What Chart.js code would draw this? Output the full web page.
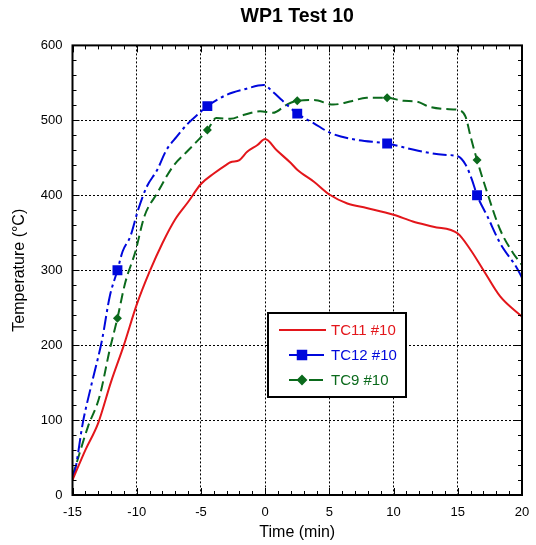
<!DOCTYPE html>
<html>
<head>
<meta charset="utf-8">
<title>WP1 Test 10</title>
<script src="https://cdn.jsdelivr.net/npm/chart.js@4.4.0/dist/chart.umd.js"></script>
<style>
  html, body { margin: 0; padding: 0; background: #fff; }
  #wrap { width: 536px; height: 545px; }
</style>
</head>
<body>
<div id="wrap"><canvas id="chart" width="536" height="545"></canvas></div>
<script>
// valori
const tc11Time = [-15, -14, -13, -12, -11, -10, -9, -8, -7, -6, -5, -4, -3, -2.7, -2, -1.4, -0.6, 0, 0.9, 2, 2.5, 3.8, 5, 6.4, 7.9, 10, 11.5, 13.1, 15, 16, 17, 18.3, 20];
const tc11Temp = [20, 60, 96, 151, 200, 254, 298, 336, 368, 391, 415, 429, 441, 444, 447, 458, 467, 475, 460, 443, 434, 418, 401, 389, 383, 374, 365, 358, 349, 327, 300, 265, 238];

const tc12Time = [-15, -14.8, -14.2, -13.5, -12.7, -12.1, -11.5, -11.1, -10.5, -9.9, -9.2, -8.4, -7.7, -6.9, -6, -5.3, -4.5, -3, -1.7, -0.1, 0.6, 1.3, 2.5, 3.8, 5.1, 7.1, 9.5, 11.5, 13.9, 15, 15.6, 16.1, 16.5, 17.3, 18.3, 19.6, 20];
const tc12Temp = [25, 33, 96, 149, 207, 265, 300, 325, 345, 380, 412, 434, 460, 478, 496, 507, 519, 534, 541, 547, 538, 527, 509, 496, 483, 474, 469, 461, 454, 452, 441, 421, 400, 372, 336, 303, 290];

const tc9Time = [-15, -14.8, -13.8, -12.9, -12.1, -11.5, -10.9, -10.1, -9.4, -8.4, -7.2, -6.1, -5.2, -4.5, -3.8, -2.7, -1.7, -0.4, 0.6, 1.7, 2.5, 3.8, 5.3, 6.6, 7.9, 9.5, 10.8, 11.8, 12.8, 14.1, 15, 15.6, 16, 16.5, 17.3, 18.3, 19.3, 20];
const tc9Temp = [25, 36, 91, 131, 194, 236, 283, 325, 372, 403, 438, 458, 474, 487, 503, 502, 507, 512, 510, 521, 526, 527, 521, 525, 530, 530, 526, 525, 518, 515, 514, 505, 478, 447, 403, 354, 323, 307];

// istanti con i marcatori
const markerTimes = [-11.5, -4.5, 2.5, 9.5, 16.5];

const xTicks = [-15, -10, -5, 0, 5, 10, 15, 20];
const yTicks = [0, 100, 200, 300, 400, 500, 600];

const RED = '#e3161b';
const BLUE = '#0008dc';
const GREEN = '#0b6a1c';

function toPoints(times, temps) {
    return times.map((t, i) => ({ x: t, y: temps[i] }));
}

function markerRadius(r) {
    return ctx => (ctx.raw && markerTimes.includes(ctx.raw.x)) ? r : 0;
}

// cornice e tacche interne su tutti e quattro i lati
const framePlugin = {
    id: 'frame',
    afterDatasetsDraw(chart) {
        const { ctx, chartArea: a, scales: { x, y } } = chart;
        ctx.save();
        ctx.strokeStyle = '#000';
        ctx.lineWidth = 1;
        ctx.beginPath();
        for (let v = -15; v <= 20; v += 1) {
            const px = Math.round(x.getPixelForValue(v)) + 0.5;
            const len = (v % 5 === 0) ? 7 : 4;
            ctx.moveTo(px, a.bottom); ctx.lineTo(px, a.bottom - len);
            ctx.moveTo(px, a.top); ctx.lineTo(px, a.top + len);
        }
        for (let v = 0; v <= 600; v += 20) {
            const py = Math.round(y.getPixelForValue(v)) + 0.5;
            const len = (v % 100 === 0) ? 7 : 4;
            ctx.moveTo(a.left, py); ctx.lineTo(a.left + len, py);
            ctx.moveTo(a.right, py); ctx.lineTo(a.right - len, py);
        }
        ctx.stroke();
        ctx.lineWidth = 2;
        ctx.strokeRect(a.left, a.top, a.right - a.left, a.bottom - a.top);
        ctx.restore();
    }
};

// legenda a riquadro come nell'originale
const legendBoxPlugin = {
    id: 'legendBox',
    afterDraw(chart) {
        const { ctx } = chart;
        const bx = 268, by = 313, bw = 138, bh = 84;
        ctx.save();
        ctx.fillStyle = '#fff';
        ctx.fillRect(bx, by, bw, bh);
        ctx.strokeStyle = '#000';
        ctx.lineWidth = 2;
        ctx.strokeRect(bx, by, bw, bh);

        const rows = [
            { label: 'TC11 #10', color: RED, marker: null },
            { label: 'TC12 #10', color: BLUE, marker: 'rect' },
            { label: 'TC9 #10', color: GREEN, marker: 'rectRot' }
        ];
        ctx.font = '15px "Liberation Sans", Arial, sans-serif';
        ctx.textBaseline = 'middle';
        rows.forEach((r, i) => {
            const ly = 330 + i * 25;
            ctx.strokeStyle = r.color;
            ctx.lineWidth = 2;
            ctx.beginPath();
            if (r.marker === 'rect') {
                ctx.moveTo(289, ly); ctx.lineTo(298, ly);
                ctx.moveTo(306, ly); ctx.lineTo(324, ly);
            } else if (r.marker === 'rectRot') {
                ctx.moveTo(289, ly); ctx.lineTo(299, ly);
                ctx.moveTo(309, ly); ctx.lineTo(323, ly);
            } else {
                ctx.moveTo(279, ly); ctx.lineTo(326, ly);
            }
            ctx.stroke();
            if (r.marker) {
                ctx.fillStyle = r.color;
                Chart.helpers.drawPoint(ctx, {
                    pointStyle: r.marker,
                    radius: r.marker === 'rect' ? 6 : 4,
                    borderWidth: 1,
                    rotation: 0
                }, 302, ly);
                ctx.fill();
            }
            ctx.fillStyle = r.color;
            ctx.fillText(r.label, 331, ly + 1);
        });
        ctx.restore();
    }
};

const FONT = '"Liberation Sans", Arial, sans-serif';

new Chart(document.getElementById('chart').getContext('2d'), {
    type: 'line',
    data: {
        datasets: [
            {
                label: 'TC11 #10',
                data: toPoints(tc11Time, tc11Temp),
                borderColor: RED,
                backgroundColor: RED,
                borderWidth: 2,
                pointRadius: 0,
                cubicInterpolationMode: 'monotone'
            },
            {
                label: 'TC12 #10',
                data: toPoints(tc12Time, tc12Temp),
                borderColor: BLUE,
                backgroundColor: BLUE,
                borderWidth: 2,
                borderDash: [14, 4, 3, 4],
                pointStyle: 'rect',
                pointRadius: markerRadius(7),
                pointBorderWidth: 0,
                cubicInterpolationMode: 'monotone'
            },
            {
                label: 'TC9 #10',
                data: toPoints(tc9Time, tc9Temp),
                borderColor: GREEN,
                backgroundColor: GREEN,
                borderWidth: 2,
                borderDash: [10, 5],
                pointStyle: 'rectRot',
                pointRadius: markerRadius(4.5),
                pointBorderWidth: 0,
                cubicInterpolationMode: 'monotone'
            }
        ]
    },
    options: {
        responsive: false,
        animation: false,
        layout: { padding: { left: 0, right: 14, top: 0, bottom: 0 } },
        plugins: {
            legend: { display: false },
            tooltip: { enabled: false },
            title: {
                display: true,
                text: 'WP1 Test 10',
                fullSize: false,
                color: '#000',
                font: { family: FONT, size: 19.5, weight: 'bold' },
                padding: { top: 5, bottom: 17 }
            }
        },
        scales: {
            x: {
                type: 'linear',
                min: -15,
                max: 20,
                afterFit: s => { s.height = 50; s.paddingLeft = 0; s.paddingRight = 0; },
                afterBuildTicks: s => { s.ticks = xTicks.map(v => ({ value: v })); },
                ticks: { color: '#000', padding: 10, font: { family: FONT, size: 13 } },
                grid: {
                    drawTicks: false,
                    color: c => (c.tick && (c.tick.value === -15 || c.tick.value === 20)) ? 'rgba(0,0,0,0)' : '#000',
                    lineWidth: 1
                },
                border: { display: false, dash: [2, 2] },
                title: {
                    display: true,
                    text: 'Time (min)',
                    color: '#000',
                    font: { family: FONT, size: 16 },
                    padding: { top: 0, bottom: 3 }
                }
            },
            y: {
                type: 'linear',
                min: 0,
                max: 600,
                afterFit: s => { s.width = 72.5; s.paddingTop = 0; s.paddingBottom = 0; },
                afterBuildTicks: s => { s.ticks = yTicks.map(v => ({ value: v })); },
                ticks: { color: '#000', padding: 10, font: { family: FONT, size: 13 } },
                grid: {
                    drawTicks: false,
                    color: c => (c.tick && (c.tick.value === 0 || c.tick.value === 600)) ? 'rgba(0,0,0,0)' : '#000',
                    lineWidth: 1
                },
                border: { display: false, dash: [2, 2] },
                title: {
                    display: true,
                    text: 'Temperature (°C)',
                    color: '#000',
                    font: { family: FONT, size: 16 },
                    padding: { top: 10, bottom: 0 }
                }
            }
        }
    },
    plugins: [framePlugin, legendBoxPlugin]
});
</script>
</body>
</html>
